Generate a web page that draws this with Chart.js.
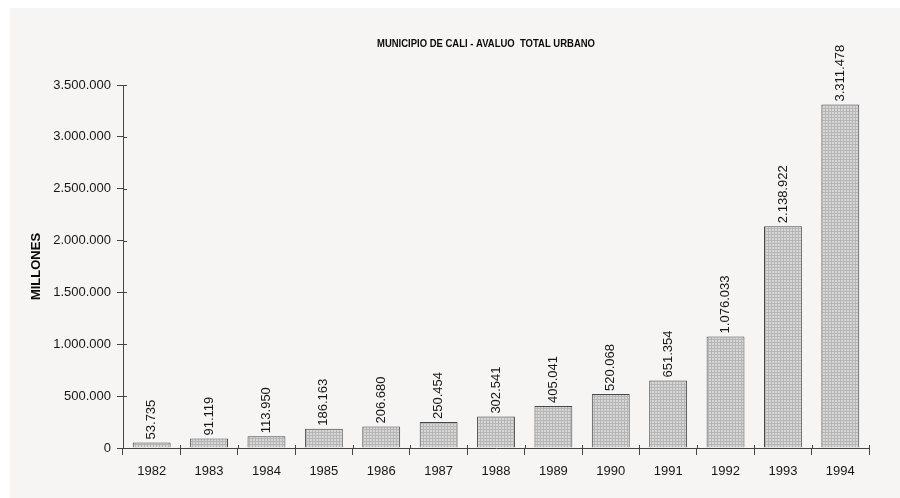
<!DOCTYPE html>
<html>
<head>
<meta charset="utf-8">
<script src="https://cdn.jsdelivr.net/npm/chart.js@4/dist/chart.umd.min.js"></script>
<style>
  html, body { margin: 0; padding: 0; background: #ffffff; }
  #wrap { width: 900px; height: 498px; position: relative; }
</style>
</head>
<body>
<div id="wrap"><canvas id="c" width="900" height="498"></canvas></div>
<script>
// Avalúo total urbano, Municipio de Cali (millones de pesos)
const years = ['1982', '1983', '1984', '1985', '1986', '1987', '1988',
               '1989', '1990', '1991', '1992', '1993', '1994'];
const avaluo = [53735, 91119, 113950, 186163, 206680, 250454, 302541,
                405041, 520068, 651354, 1076033, 2138922, 3311478];
const chartTitle = 'MUNICIPIO DE CALI - AVALUO  TOTAL URBANO';
const axisTitle = 'MILLONES';
const yMax = 3500000;
const yStep = 500000;

const FONT = '"Liberation Sans", Arial, Helvetica, sans-serif';
const INK = '#161616';
const AXIS = '#444444';

// thousands separated with dots
function miles(v) {
  return String(Math.round(v)).replace(/\B(?=(\d{3})+(?!\d))/g, '.');
}

// fine stipple used to fill the bars
function stipple() {
  const p = document.createElement('canvas');
  p.width = 3; p.height = 3;
  const g = p.getContext('2d');
  g.fillStyle = '#d7d7d7';
  g.fillRect(0, 0, 3, 3);
  g.fillStyle = '#b6b6b6';
  g.fillRect(0, 0, 1, 3);
  g.fillRect(0, 0, 3, 1);
  return g.createPattern(p, 'repeat');
}

// paper background
const paper = {
  id: 'paper',
  beforeDraw(chart) {
    const ctx = chart.ctx;
    ctx.save();
    ctx.fillStyle = '#f7f5f4';
    ctx.fillRect(10, 8, chart.width - 10, chart.height - 8);
    ctx.restore();
  }
};

// heading line above the plot
const heading = {
  id: 'heading',
  afterDraw(chart) {
    const ctx = chart.ctx;
    ctx.save();
    ctx.fillStyle = '#0a0a0a';
    ctx.font = 'bold 11px "Liberation Sans Narrow", "Arial Narrow", ' + FONT;
    ctx.textAlign = 'center';
    ctx.textBaseline = 'middle';
    ctx.fillText(chartTitle, 486, 44, 218);
    ctx.restore();
  }
};

// short tick stubs that cross into the plot area
const innerTicks = {
  id: 'innerTicks',
  afterDraw(chart) {
    const ctx = chart.ctx;
    const x = chart.scales.x, y = chart.scales.y;
    ctx.save();
    ctx.strokeStyle = AXIS;
    ctx.lineWidth = 1;
    ctx.beginPath();
    y.ticks.forEach((t, i) => {
      const py = Math.round(y.getPixelForTick(i)) + 0.5;
      ctx.moveTo(y.right, py);
      ctx.lineTo(y.right + 4, py);
    });
    const n = years.length;
    for (let i = 1; i <= n; i++) {
      const px = Math.round(x.left + i * x.width / n) + 0.5;
      ctx.moveTo(px, x.top);
      ctx.lineTo(px, x.top - 3);
    }
    ctx.stroke();
    ctx.restore();
  }
};

// vertical value labels above each bar
const valueLabels = {
  id: 'valueLabels',
  afterDatasetsDraw(chart) {
    const ctx = chart.ctx;
    const meta = chart.getDatasetMeta(0);
    ctx.save();
    ctx.fillStyle = INK;
    ctx.font = '13px ' + FONT;
    ctx.textAlign = 'left';
    ctx.textBaseline = 'middle';
    meta.data.forEach((bar, i) => {
      ctx.save();
      ctx.translate(bar.x, bar.y - 3);
      ctx.rotate(-Math.PI / 2);
      ctx.fillText(miles(chart.data.datasets[0].data[i]), 0, 0);
      ctx.restore();
    });
    ctx.restore();
  }
};

new Chart(document.getElementById('c'), {
  type: 'bar',
  data: {
    labels: years,
    datasets: [{
      data: avaluo,
      backgroundColor: stipple(),
      borderColor: '#474747',
      borderWidth: 1,
      borderSkipped: 'bottom',
      categoryPercentage: 1.0,
      barPercentage: 0.66
    }]
  },
  options: {
    responsive: false,
    animation: false,
    devicePixelRatio: 1,
    layout: { padding: { left: 0, right: 31, top: 85, bottom: 0 } },
    plugins: {
      legend: { display: false },
      title: { display: false },
      tooltip: { enabled: false }
    },
    scales: {
      x: {
        afterFit(scale) { scale.height = 50; },
        border: { display: true, color: AXIS, width: 1 },
        grid: { display: true, drawOnChartArea: false, drawTicks: true,
                tickLength: 7, color: AXIS, offset: true },
        ticks: { color: INK, font: { family: FONT, size: 13 }, padding: 9,
                 maxRotation: 0, autoSkip: false }
      },
      y: {
        min: 0,
        max: yMax,
        afterFit(scale) { scale.width = 123; },
        border: { display: true, color: AXIS, width: 1 },
        grid: { display: true, drawOnChartArea: false, drawTicks: true,
                tickLength: 6, color: AXIS },
        ticks: {
          stepSize: yStep,
          color: INK,
          font: { family: FONT, size: 13 },
          padding: 6,
          callback: (v) => miles(v)
        },
        title: {
          display: true,
          text: axisTitle,
          color: '#0a0a0a',
          font: { family: FONT, size: 13, weight: 'bold' },
          padding: { top: 29, bottom: 0 }
        }
      }
    }
  },
  plugins: [paper, valueLabels, innerTicks, heading]
});
</script>
</body>
</html>
